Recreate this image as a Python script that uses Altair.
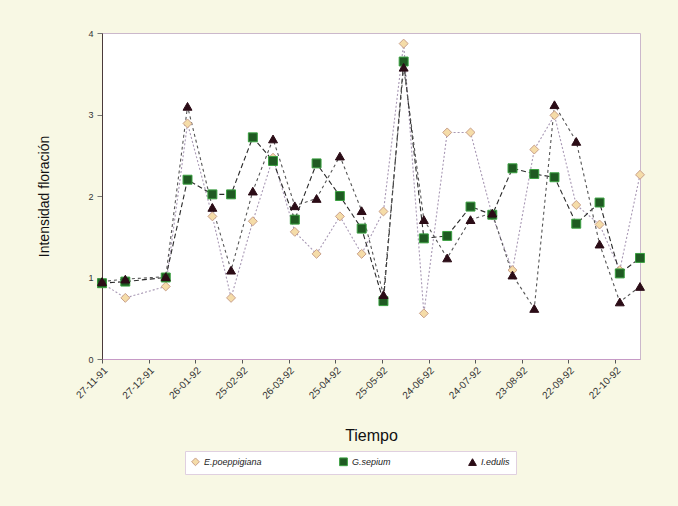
import altair as alt
import pandas as pd

# Sampling dates, in days since 27-11-91
days = [0, 15, 41, 55, 71, 83, 97, 110, 124, 138, 153, 167, 181,
        194, 207, 222, 237, 251, 264, 278, 291, 305, 320, 333, 346]

# Flowering intensity per species
e_poeppigiana = [0.93, 0.75, 0.89, 2.89, 1.75, 0.75, 1.69, 2.47, 1.56, 1.29,
                 1.75, 1.29, 1.81, 3.87, 0.56, 2.78, 2.78, 1.76, 1.09, 2.57,
                 2.99, 1.89, 1.65, 1.09, 2.26]
g_sepium = [0.93, 0.95, 1.00, 2.20, 2.02, 2.02, 2.72, 2.43, 1.71, 2.40,
            2.00, 1.60, 0.71, 3.65, 1.48, 1.51, 1.87, 1.77, 2.34, 2.27,
            2.23, 1.66, 1.92, 1.05, 1.24]
i_edulis = [0.95, 0.98, 1.01, 3.10, 1.86, 1.09, 2.06, 2.70, 1.88, 1.97,
            2.49, 1.82, 0.79, 3.58, 1.71, 1.24, 1.71, 1.79, 1.03, 0.62,
            3.12, 2.67, 1.41, 0.70, 0.89]

species = ["E.poeppigiana", "G.sepium", "I.edulis"]

# Axis ticks: every 30 days
tick_days = [0, 30, 60, 90, 120, 150, 180, 210, 240, 270, 300, 330]
tick_labels = ["27-11-91", "27-12-91", "26-01-92", "25-02-92", "26-03-92",
               "25-04-92", "25-05-92", "24-06-92", "24-07-92", "23-08-92",
               "22-09-92", "22-10-92"]

rows = []
for name, vals in zip(species, [e_poeppigiana, g_sepium, i_edulis]):
    for d, v in zip(days, vals):
        rows.append({"dia": d, "intensidad": v, "especie": name, "serie": name})
df = pd.DataFrame(rows)

label_expr = "[" + ",".join("'" + t + "'" for t in tick_labels) + "][round(datum.value / 30)]"

x_enc = alt.X("dia:Q",
              scale=alt.Scale(domain=[0, 346], nice=False, zero=False),
              axis=alt.Axis(values=tick_days, labelExpr=label_expr, labelAngle=-45,
                            labelFontSize=10, labelColor="#333333", labelPadding=2,
                            tickSize=4, tickColor="#555555", domainColor="#c69ac6",
                            grid=False, title="Tiempo", titleFontSize=16,
                            titleFontWeight="normal", titleColor="#111111",
                            titlePadding=27))
y_enc = alt.Y("intensidad:Q",
              scale=alt.Scale(domain=[0, 4], nice=False),
              axis=alt.Axis(values=[0, 1, 2, 3, 4], labelFontSize=9, labelColor="#333333",
                            tickSize=5, tickColor="#777777", domainColor="#4a3a3a",
                            grid=False, title="Intensidad floración", titleFontSize=14,
                            titleFontWeight="normal", titleColor="#111111",
                            titlePadding=36, labelPadding=4))

line_colors = ["#a898b4", "#2a2a2a", "#555555"]
dashes = [[2, 2], [5, 3], [3, 3]]
fills = ["#f5dca8", "#1f5a22", "#2b0c16"]
strokes = ["#c9a08a", "#3aa040", "#2b0c16"]
shapes = ["diamond", "square", "triangle-up"]

# Connecting lines; their scales take the (alphabetical) data domain of
# their own field, so the hidden line legends stay apart from the symbol legend
lines = alt.Chart(df).mark_line(strokeWidth=1.1).encode(
    x=x_enc, y=y_enc,
    color=alt.Color("serie:N", scale=alt.Scale(range=line_colors), legend=None),
    strokeDash=alt.StrokeDash("serie:N", scale=alt.Scale(range=dashes), legend=None),
)

legend = alt.Legend(title=None, orient="none", direction="horizontal",
                    legendX=83, legendY=418,
                    fillColor="white", padding=6, strokeColor="#e0d0e0",
                    labelFontStyle="italic", labelFontSize=9, labelColor="#222222",
                    labelFont="Liberation Sans",
                    symbolSize=60, columnPadding=75, symbolStrokeWidth=1)

points = alt.Chart(df).mark_point(filled=True, size=80, opacity=1, strokeWidth=1).encode(
    x=x_enc, y=y_enc,
    shape=alt.Shape("especie:N", scale=alt.Scale(domain=species, range=shapes), legend=legend),
    fill=alt.Fill("especie:N", scale=alt.Scale(domain=species, range=fills), legend=legend),
    stroke=alt.Stroke("especie:N", scale=alt.Scale(domain=species, range=strokes), legend=legend),
)

chart = alt.layer(lines, points).properties(
    width=538, height=326,
    autosize=alt.AutoSizeParams(type="none"),
    padding={"left": 102, "top": 33, "right": 38, "bottom": 147},
    background="#f8f8e4",
).configure(
    font="Liberation Sans"
).configure_view(
    fill="white", stroke="#cbb8cb", strokeWidth=1
)

chart.save("out.html", embed_options={"renderer": "svg", "actions": False})
